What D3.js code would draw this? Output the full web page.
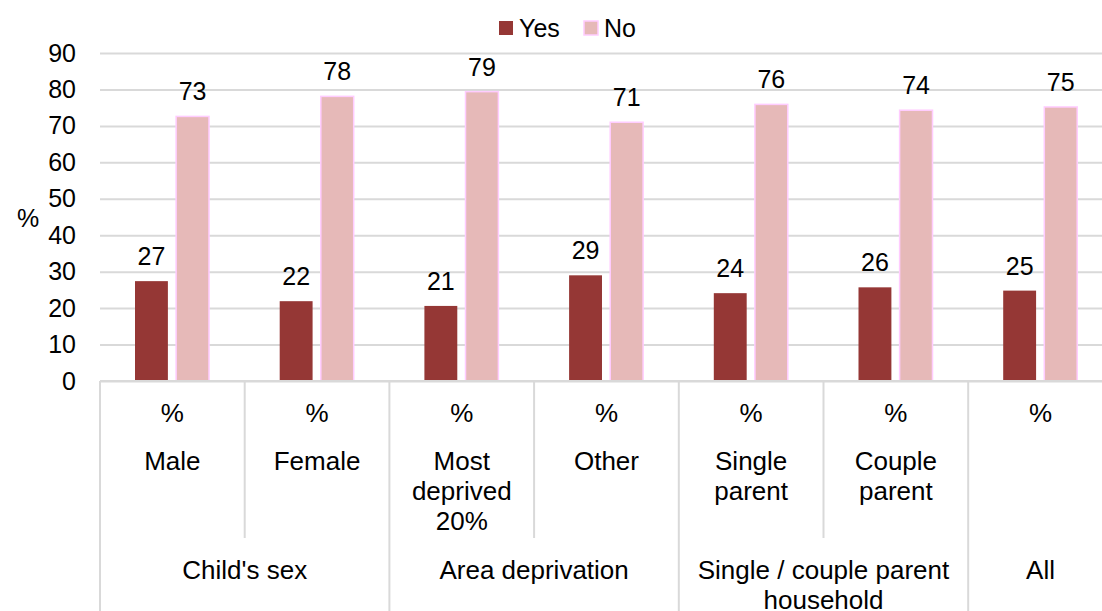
<!DOCTYPE html>
<html>
<head>
<meta charset="utf-8">
<script src="https://cdn.jsdelivr.net/npm/d3@7"></script>
<style>
  body { margin: 0; background: #fff; }
  text { font-family: "Liberation Sans", Arial, sans-serif; fill: #000; }
</style>
</head>
<body>
<svg id="chart_svg" width="1102" height="611"></svg>
<script>
// chart values
const categories = ["Male", "Female", "Most deprived 20%", "Other", "Single parent", "Couple parent", "All"]
const categoryLines = [["Male"], ["Female"], ["Most", "deprived", "20%"], ["Other"], ["Single", "parent"], ["Couple", "parent"], []]
const groups = [
  { name: ["Child's sex"], start: 0, end: 2 },
  { name: ["Area deprivation"], start: 2, end: 4 },
  { name: ["Single / couple parent", "household"], start: 4, end: 6 },
  { name: ["All"], start: 6, end: 7 },
]
const seriesKeys = ["Yes", "No"]
const yesValues = [27.4, 21.9, 20.6, 29.0, 24.1, 25.7, 24.8]
const noValues = [72.6, 78.1, 79.4, 71.0, 75.9, 74.3, 75.2]
const yTicks = [0, 10, 20, 30, 40, 50, 60, 70, 80, 90]

const colors = { Yes: "#953735", No: "#e6b9b8" }
const tickFont = 25
const labelFont = 25
const catFont = 26

const svg = d3.select("#chart_svg")

const margin = { top: 53, left: 100 }
const plotBottom = 381
const bandWidth = 144.7

/**
 * Scales
 */
const xScale = d3.scaleBand()
  .domain(categories)
  .range([margin.left, margin.left + bandWidth * categories.length])
  .paddingInner(0)
  .paddingOuter(0)

const xSub = d3.scaleBand()
  .domain(seriesKeys)
  .range([35, 109])
  .paddingInner(0.2)

const yScale = d3.scaleLinear()
  .domain([0, 90])
  .range([plotBottom, margin.top])

const data = categories.map((c, i) => ({ category: c, Yes: yesValues[i], No: noValues[i] }))

/**
 * Gridlines
 */
const g_grid = svg.append("g")
  .attr("transform", `translate(${margin.left},0)`)
  .call(d3.axisLeft(yScale).tickValues(yTicks).tickSize(-1102).tickFormat(""))
g_grid.select(".domain").remove()
g_grid.selectAll("line").attr("stroke", "#d9d9d9").attr("stroke-width", 2)

/**
 * Y axis labels
 */
const g_y = svg.append("g")
  .attr("transform", `translate(${margin.left},0)`)
  .call(d3.axisLeft(yScale).tickValues(yTicks).tickSize(0).tickPadding(24))
g_y.select(".domain").remove()
g_y.selectAll("text")
  .attr("font-size", tickFont)
  .attr("font-family", "Liberation Sans, Arial, sans-serif")
  .attr("fill", "#000")

svg.append("text")
  .attr("x", 28)
  .attr("y", 218)
  .attr("dy", "0.35em")
  .attr("text-anchor", "middle")
  .attr("font-size", tickFont)
  .text("%")

/**
 * Bars
 */
const g_groups = svg.append("g")
  .selectAll(".bar_group")
  .data(data)
  .enter()
  .append("g")
  .attr("class", "bar_group")
  .attr("transform", (d) => `translate(${xScale(d.category)},0)`)

g_groups.selectAll("rect")
  .data((d) => seriesKeys.map((k) => ({ key: k, value: d[k] })))
  .enter()
  .append("rect")
  .attr("x", (d) => xSub(d.key))
  .attr("width", xSub.bandwidth())
  .attr("y", (d) => yScale(d.value))
  .attr("height", (d) => plotBottom - yScale(d.value))
  .attr("fill", (d) => colors[d.key])
  .attr("stroke", (d) => (d.key === "No" ? "#ffccff" : "none"))
  .attr("stroke-width", 1.5)

g_groups.selectAll(".bar_label")
  .data((d) => seriesKeys.map((k) => ({ key: k, value: d[k] })))
  .enter()
  .append("text")
  .attr("class", "bar_label")
  .attr("x", (d) => xSub(d.key) + xSub.bandwidth() / 2)
  .attr("y", (d) => yScale(d.value) - 16)
  .attr("text-anchor", "middle")
  .attr("font-size", labelFont)
  .text((d) => Math.round(d.value))

/**
 * Category axis: base line, separators and labels
 */
svg.append("line")
  .attr("x1", margin.left)
  .attr("x2", 1102)
  .attr("y1", plotBottom)
  .attr("y2", plotBottom)
  .attr("stroke", "#d9d9d9")
  .attr("stroke-width", 2)

const groupEdges = new Set(groups.flatMap((g) => [g.start, g.end]))
const edgeIdx = d3.range(categories.length + 1)

svg.append("g")
  .selectAll("line")
  .data(edgeIdx)
  .enter()
  .append("line")
  .attr("x1", (i) => margin.left + i * xScale.bandwidth())
  .attr("x2", (i) => margin.left + i * xScale.bandwidth())
  .attr("y1", plotBottom)
  .attr("y2", (i) => (groupEdges.has(i) ? 611 : 538))
  .attr("stroke", "#d9d9d9")
  .attr("stroke-width", 2)

const g_cat = svg.append("g")
  .selectAll(".cat_label")
  .data(categories)
  .enter()
  .append("g")
  .attr("class", "cat_label")
  .attr("transform", (d) => `translate(${xScale(d) + xScale.bandwidth() / 2},0)`)

g_cat.append("text")
  .attr("y", 413)
  .attr("dy", "0.35em")
  .attr("text-anchor", "middle")
  .attr("font-size", catFont)
  .text("%")

g_cat.each(function (d, i) {
  d3.select(this)
    .selectAll(".cat_line")
    .data(categoryLines[i])
    .enter()
    .append("text")
    .attr("class", "cat_line")
    .attr("y", (t, j) => 461 + j * 30)
    .attr("dy", "0.35em")
    .attr("text-anchor", "middle")
    .attr("font-size", catFont)
    .text((t) => t)
})

const g_grp = svg.append("g")
  .selectAll(".grp_label")
  .data(groups)
  .enter()
  .append("g")
  .attr("class", "grp_label")
  .attr("transform", (g) => `translate(${margin.left + ((g.start + g.end) / 2) * xScale.bandwidth()},0)`)

g_grp.selectAll("text")
  .data((g) => g.name)
  .enter()
  .append("text")
  .attr("y", (t, j) => 570 + j * 30)
  .attr("dy", "0.35em")
  .attr("text-anchor", "middle")
  .attr("font-size", catFont)
  .text((t) => t)

/**
 * Legend
 */
const legendX = { Yes: 499, No: 584 }
const legend = svg.append("g")
  .selectAll(".legend_item")
  .data(seriesKeys)
  .enter()
  .append("g")
  .attr("class", "legend_item")
  .attr("transform", (d) => `translate(${legendX[d]},21)`)

legend.append("rect")
  .attr("width", 14)
  .attr("height", 14)
  .attr("fill", (d) => colors[d])
  .attr("stroke", (d) => (d === "No" ? "#ffccff" : "none"))
  .attr("stroke-width", 1.5)

legend.append("text")
  .attr("x", 20)
  .attr("y", 7.5)
  .attr("dy", "0.35em")
  .attr("font-size", labelFont)
  .text((d) => d)
</script>
</body>
</html>
